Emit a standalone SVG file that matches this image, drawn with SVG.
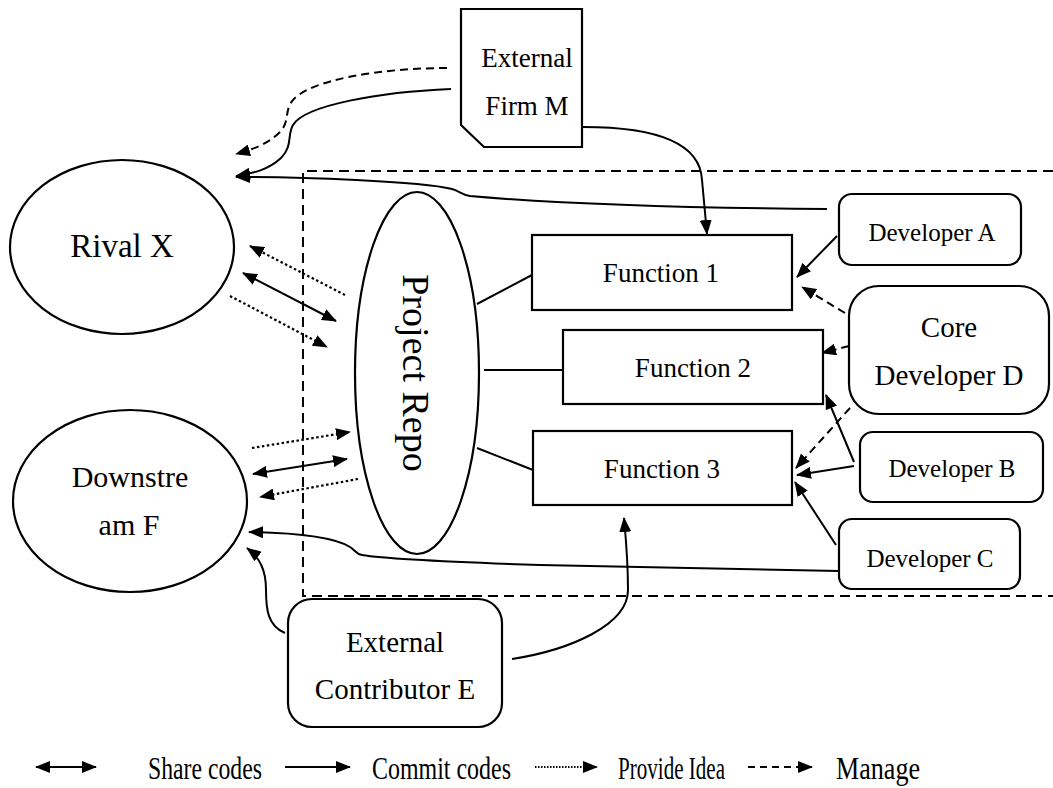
<svg xmlns="http://www.w3.org/2000/svg" width="1053" height="788" viewBox="0 0 1053 788">
  <defs>
    <marker id="head" viewBox="0 0 15 12" refX="14" refY="6" markerWidth="15" markerHeight="12" markerUnits="userSpaceOnUse" orient="auto-start-reverse">
      <path d="M0,0 L15,6 L0,12 z" fill="#000"/>
    </marker>
    <style>
      .shape { fill: #fff; stroke: #000; stroke-width: 2.2; }
      text { font-family: 'Liberation Serif', 'DejaVu Serif', serif; fill: #000; }
      .lbl { text-anchor: middle; }
      .conn { fill: none; stroke: #000; stroke-width: 2; }
      .dash { stroke-dasharray: 8 5; }
      .dot { stroke-dasharray: 2.5 2.5; stroke-width: 2.2; }
      .boundary { fill: none; stroke: #000; stroke-width: 2; stroke-dasharray: 10 6; }
      .leg { font-size: 32px; }
    </style>
  </defs>

  <rect width="1053" height="788" fill="#fff"/>

  <!-- project boundary, open to the right -->
  <path class="boundary" d="M1053,171 H303 V596 H1053"/>

  <!-- connectors -->
  <g id="connectors">
    <!-- External Firm M to Rival X -->
    <path class="conn dash" d="M447,68 C380,68 310,80 293,100 C284,110 290,122 280,132 C268,144 254,149 236,154" marker-end="url(#head)"/>
    <path class="conn" d="M451,89 C380,92 305,105 293,125 C287,135 293,146 281,158 C268,170 254,173 236,176" marker-end="url(#head)"/>
    <!-- Developer A to Rival X -->
    <path class="conn" d="M827,209 C700,208 560,204 470,196 C462,195 460,191 452,189 C420,181 300,177 236,177" marker-end="url(#head)"/>
    <!-- External Firm M to Function 1 -->
    <path class="conn" d="M583,127 C650,127 700,140 702,180 L707,234" marker-end="url(#head)"/>
    <!-- Project Repo to functions -->
    <path class="conn" d="M477,304 L532,275"/>
    <path class="conn" d="M484,370 L563,370"/>
    <path class="conn" d="M477,448 L533,470"/>
    <!-- developers to functions -->
    <path class="conn" d="M837,236 L797,277" marker-end="url(#head)"/>
    <path class="conn dash" d="M845,313 L802,287" marker-end="url(#head)"/>
    <path class="conn dash" d="M849,346 L822,353" marker-end="url(#head)"/>
    <path class="conn dash" d="M850,408 L796,468" marker-end="url(#head)"/>
    <path class="conn" d="M854,462 L826,395" marker-end="url(#head)"/>
    <path class="conn" d="M854,466 L797,475" marker-end="url(#head)"/>
    <path class="conn" d="M836,545 L795,482" marker-end="url(#head)"/>
    <!-- Developer C to Downstream F -->
    <path class="conn" d="M839,571 L540,565 C450,562 380,558 362,555 C356,554 355,550 350,547 C335,538 300,533 249,532" marker-end="url(#head)"/>
    <!-- External Contributor E -->
    <path class="conn" d="M512,659 C570,650 628,625 628,590 C628,560 626,540 624,518" marker-end="url(#head)"/>
    <path class="conn" d="M285,633 C268,626 266,610 266,590 C266,570 260,558 247,548" marker-end="url(#head)"/>
    <!-- Rival X and Project Repo -->
    <path class="conn dot" d="M345,295 L250,246" marker-end="url(#head)"/>
    <path class="conn" d="M243,273 L336,321" marker-start="url(#head)" marker-end="url(#head)"/>
    <path class="conn dot" d="M230,296 L327,347" marker-end="url(#head)"/>
    <!-- Downstream F and Project Repo -->
    <path class="conn dot" d="M252,448 L350,432" marker-end="url(#head)"/>
    <path class="conn" d="M253,474 L347,459" marker-start="url(#head)" marker-end="url(#head)"/>
    <path class="conn dot" d="M358,479 L260,497" marker-end="url(#head)"/>
  </g>

  <g id="firm-m">
    <path class="shape" d="M461,9 H582 V147 H484 L461,125 Z"/>
    <text class="lbl" x="527" y="67" font-size="27">External</text>
    <text class="lbl" x="527" y="115" font-size="27">Firm M</text>
  </g>

  <g id="rival-x">
    <ellipse class="shape" cx="122" cy="247" rx="112" ry="87"/>
    <text class="lbl" x="122" y="257" font-size="33">Rival X</text>
  </g>

  <g id="downstream-f">
    <ellipse class="shape" cx="130" cy="501" rx="117" ry="91"/>
    <text class="lbl" x="130" y="487" font-size="30">Downstre</text>
    <text class="lbl" x="129" y="535" font-size="30">am F</text>
  </g>

  <g id="project-repo">
    <ellipse class="shape" cx="417" cy="373" rx="62" ry="181"/>
    <text class="lbl" font-size="38" transform="translate(403,373) rotate(90)">Project Repo</text>
  </g>

  <g id="function-1">
    <rect class="shape" x="532" y="235" width="260" height="75"/>
    <text class="lbl" x="661" y="282" font-size="27">Function 1</text>
  </g>

  <g id="function-2">
    <rect class="shape" x="563" y="330" width="260" height="74"/>
    <text class="lbl" x="693" y="377" font-size="27">Function 2</text>
  </g>

  <g id="function-3">
    <rect class="shape" x="533" y="431" width="259" height="74"/>
    <text class="lbl" x="662" y="478" font-size="27">Function 3</text>
  </g>

  <g id="developer-a">
    <rect class="shape" x="839" y="194" width="182" height="71" rx="13"/>
    <text class="lbl" x="932" y="241" font-size="25">Developer A</text>
  </g>

  <g id="core-developer-d">
    <rect class="shape" x="849" y="286" width="200" height="128" rx="30"/>
    <text class="lbl" x="949" y="337" font-size="29">Core</text>
    <text class="lbl" x="949" y="385" font-size="29">Developer D</text>
  </g>

  <g id="developer-b">
    <rect class="shape" x="860" y="432" width="183" height="70" rx="13"/>
    <text class="lbl" x="952" y="477" font-size="25">Developer B</text>
  </g>

  <g id="developer-c">
    <rect class="shape" x="839" y="519" width="181" height="70" rx="13"/>
    <text class="lbl" x="930" y="567" font-size="25">Developer C</text>
  </g>

  <g id="external-contributor-e">
    <rect class="shape" x="288" y="599" width="214" height="128" rx="24"/>
    <text class="lbl" x="395" y="652" font-size="29">External</text>
    <text class="lbl" x="395" y="699" font-size="29">Contributor E</text>
  </g>

  <!-- legend -->
  <g id="legend">
    <path class="conn" d="M36,767 L96,767" stroke-width="2.8" marker-start="url(#head)" marker-end="url(#head)"/>
    <text class="leg" x="148" y="779" textLength="114" lengthAdjust="spacingAndGlyphs">Share  codes</text>
    <path class="conn" d="M285,767 L350,767" stroke-width="2.8" marker-end="url(#head)"/>
    <text class="leg" x="372" y="779" textLength="139" lengthAdjust="spacingAndGlyphs">Commit codes</text>
    <path class="conn" d="M535,767 L597,767" stroke-width="1.5" stroke-dasharray="1.5 1.5" marker-end="url(#head)"/>
    <text class="leg" x="618" y="779" textLength="107" lengthAdjust="spacingAndGlyphs">Provide Idea</text>
    <path class="conn" d="M748,767 L812,767" stroke-width="2.8" stroke-dasharray="7 5" marker-end="url(#head)"/>
    <text class="leg" x="836" y="779" textLength="84" lengthAdjust="spacingAndGlyphs">Manage</text>
  </g>
</svg>
